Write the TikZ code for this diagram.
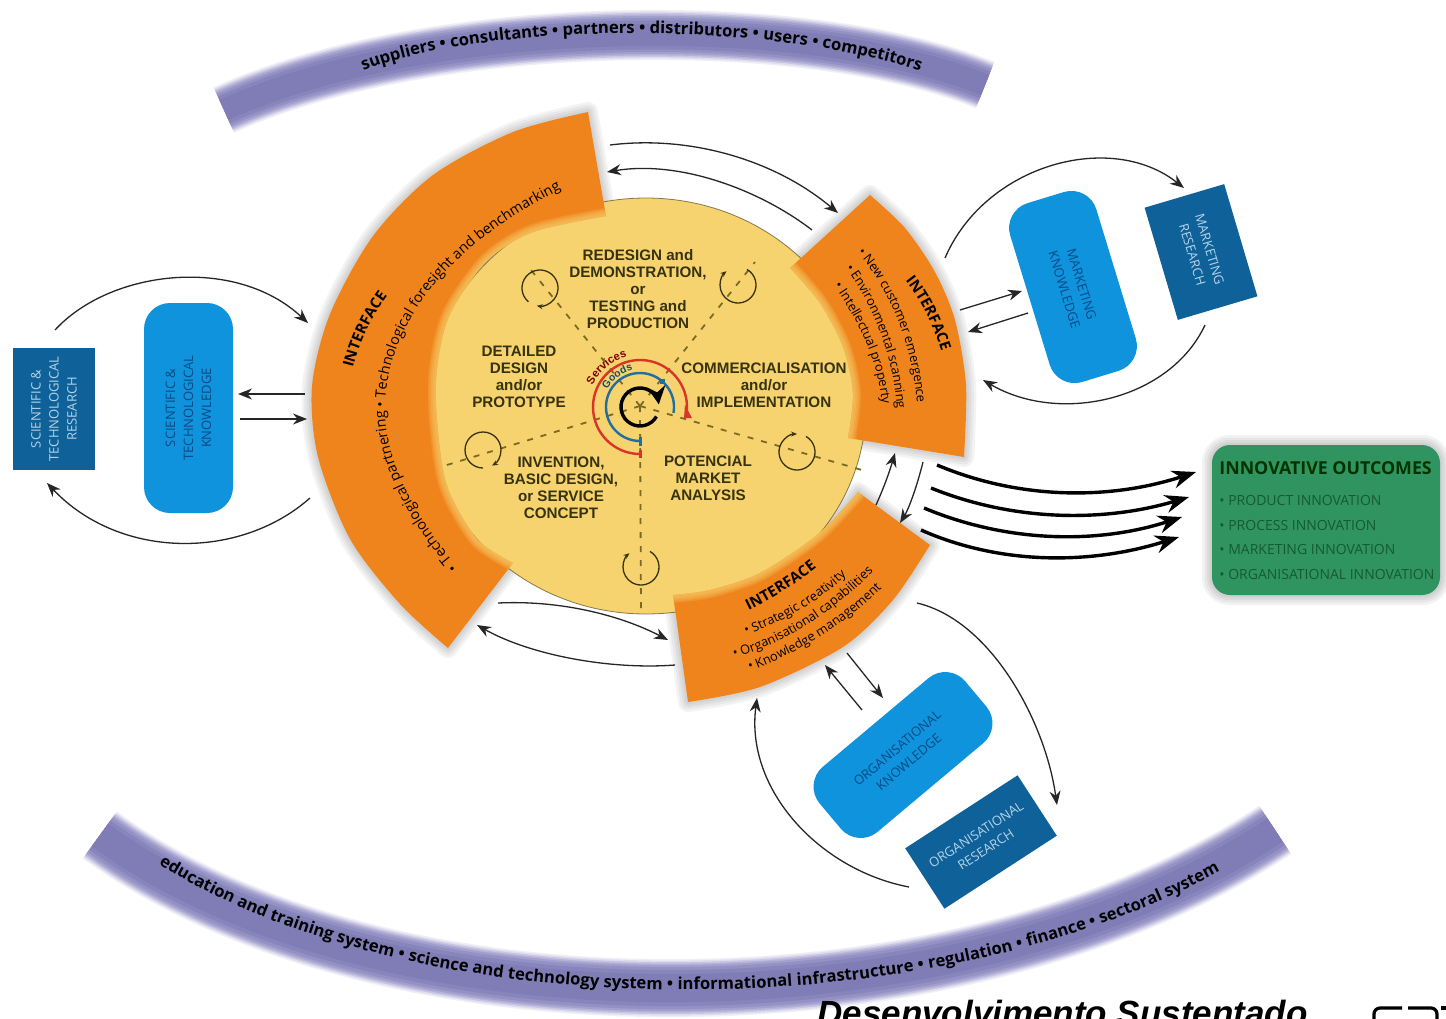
\documentclass[tikz,border=0pt]{standalone}
\usepackage{fontspec}
\setmainfont{Open Sans}
\newfontfamily\arialf{Liberation Sans}
\usetikzlibrary{arrows.meta,decorations.text}
\definecolor{orangeC}{HTML}{F0841C}
\definecolor{yellowC}{HTML}{F6D36E}
\definecolor{oliveC}{HTML}{37330F}
\definecolor{dashC}{HTML}{7A6A22}
\definecolor{lightB}{HTML}{0F93DC}
\definecolor{darkB}{HTML}{0F6299}
\definecolor{paleT}{HTML}{B5D3E8}
\definecolor{deepT}{HTML}{0A4A85}
\definecolor{greenC}{HTML}{2F9460}
\definecolor{greenT}{HTML}{155A36}
\definecolor{redC}{HTML}{D9332A}
\definecolor{blueC}{HTML}{1F6FA0}
\newcommand{\fsz}[1]{\fontsize{#1}{#1}\selectfont}
\newcommand{\bandf}{\fsz{8.3}\bfseries}
\newcommand{\ordf}{\fsz{7.2}}
\newcommand{\lowf}{\fsz{6.4}}
\newcommand{\ifcf}{\fsz{7.5}\bfseries}
\tikzset{
  x=0.5pt,y=-0.5pt,
  conn/.style={line width=0.65pt,draw=black!85,-{Stealth[length=7pt,width=5.5pt]}},
  heavy/.style={line width=1.7pt,draw=black,-{Stealth[length=12pt,width=9pt]}},
  spoke/.style={dash pattern=on 3pt off 4pt,line width=0.9pt,draw=dashC},
  cyc/.style={line width=0.65pt,draw=oliveC,-{Stealth[length=3pt,width=2.5pt]}},
  disc label/.style={font=\arialf\bfseries\fontsize{7.6}{8.45}\selectfont,text=oliveC,align=center,inner sep=0},
  knowbox/.style={fill=lightB,rounded corners=13pt,inner sep=0,align=center,text=deepT,font=\fontsize{6.5}{9}\selectfont},
  resbox/.style={fill=darkB,inner sep=0,align=center,text=paleT,font=\fontsize{6.5}{9}\selectfont},
  outtext/.style={anchor=west,inner sep=0,text=greenT,font=\fontsize{7}{8}\selectfont},
  orangeA/.style={insert path={plot[smooth] coordinates {(588,112)(513,132)(433,175)(373,236)(330,314)(312,386)(318,457)(350,539)(400,604)(448,648)} -- plot[smooth] coordinates {(513,563)(477,539)(447,486)(437,421)(437,368)(450,314)(487,261)(533,232)(606,216)} -- cycle}},
  innerA/.style={insert path={plot[smooth] coordinates {(513,563)(477,539)(447,486)(437,421)(437,368)(450,314)(487,261)(533,232)(606,216)}}},
  orangeB/.style={insert path={plot[smooth] coordinates {(870,195)(905,228)(935,272)(955,320)(966,385)(964,457)} -- plot[smooth] coordinates {(848,438)(853,393)(843,347)(820,303)(790,268)} -- cycle}},
  innerB/.style={insert path={plot[smooth] coordinates {(848,438)(853,393)(843,347)(820,303)(790,268)}}},
  orangeC shape/.style={insert path={plot[smooth] coordinates {(858,492)(930,545)} -- plot[smooth] coordinates {(930,545)(893,600)(843,647)(760,687)(688,702)} -- plot[smooth] coordinates {(673,595)(710,590)(760,573)(817,535)(858,492)} -- cycle}},
  innerC/.style={insert path={plot[smooth] coordinates {(673,595)(710,590)(760,573)(817,535)(858,492)}}},
}
\begin{document}
\begin{tikzpicture}
\useasboundingbox (0,0) rectangle (1446,1018);
\clip (0,0) rectangle (1446,1018);
\fill[white] (0,0) rectangle (1446,1018);

% ---- the two purple bands
\foreach \w/\c in {25/F0EFF7,23.5/DEDDEE,22/C8C6E2,20.5/B4B2D7,19/A3A0CD,17/9491C4,14.5/8885BC,11/807DB6}{
  \definecolor{bandC}{HTML}{\c}
  \draw[line width=\w pt,draw=bandC] (224,110) .. controls (420,20) and (800,10) .. (985,85);
}
\foreach \w/\c in {29/F0EFF7,27.5/DEDDEE,26/C8C6E2,24.5/B4B2D7,23/A3A0CD,21/9491C4,18/8885BC,14/807DB6}{
  \definecolor{bandC}{HTML}{\c}
  \draw[line width=\w pt,draw=bandC] (100,835) .. controls (380,1040) and (960,1040) .. (1275,830);
}
\path[decorate,decoration={text along path,text align=center,
  text={|\bandf|suppliers • consultants • partners • distributors • users • competitors}}]
  (355,74) .. controls (480,20) and (780,20) .. (928,74);
\path[decorate,decoration={text along path,text align=center,
  text={|\bandf|education and training system • science and technology system • informational infrastructure • regulation • finance • sectoral system}}]
  (155,862) .. controls (420,1031) and (934,1031) .. (1222,870);

% ---- halo of the orange sectors
\foreach \w in {10,7.5,5,2.5}{
  \draw[line width=\w pt,draw=black!65,opacity=0.07,line join=round,orangeA];
  \draw[line width=\w pt,draw=black!65,opacity=0.07,line join=round,orangeB];
  \draw[line width=\w pt,draw=black!65,opacity=0.07,line join=round,orangeC shape];
}

% ---- yellow disc
\fill[yellowC] (646,406) ellipse [x radius=220,y radius=208];
\draw[line width=0.4pt,draw=oliveC,opacity=0.6] (646,406) ellipse [x radius=220,y radius=208];

% ---- spokes
\coordinate (hub) at (640,406);
\coordinate (s1) at (527,265);
\coordinate (s2) at (755,262);
\coordinate (s3) at (862,470);
\coordinate (s4) at (641,612);
\coordinate (s5) at (437,468);
\foreach \e in {s1,s2,s3,s4,s5}{\draw[spoke] (hub) -- (\e);}

% ---- orange sectors
\fill[orangeC,orangeA];
\fill[orangeC,orangeB];
\fill[orangeC,orangeC shape];
\begin{scope}
\clip[orangeA];
\foreach \w in {8,6.5,5,3.5,2}{\draw[line width=\w pt,draw=yellowC,opacity=0.2,innerA];}
\end{scope}
\begin{scope}
\clip[orangeB];
\foreach \w in {8,6.5,5,3.5,2}{\draw[line width=\w pt,draw=yellowC,opacity=0.2,innerB];}
\end{scope}
\begin{scope}
\clip[orangeC shape];
\foreach \w in {8,6.5,5,3.5,2}{\draw[line width=\w pt,draw=yellowC,opacity=0.2,innerC];}
\end{scope}

% ---- sector labels
\path[decorate,decoration={text along path,text align=center,
  text={|\ifcf|INTERFACE}}] (352,372) .. controls (358,345) and (372,315) .. (390,292);
\path[decorate,decoration={text along path,text align=center,
  text={|\ordf|• Technological partnering • Technological foresight and benchmarking}}]
  (463,573) .. controls (420,525) and (385,465) .. (385,410) .. controls (385,345) and (425,255) .. (568,186);
\path[decorate,decoration={text along path,text align=center,
  text={|\ifcf|INTERFACE}}] (902,276) .. controls (922,300) and (935,330) .. (943,357);
\path[decorate,decoration={text along path,text align=center,
  text={|\lowf|• New customer emergence}}] (858,253) .. controls (890,290) and (912,345) .. (917,402);
\path[decorate,decoration={text along path,text align=center,
  text={|\lowf|• Environmental scanning}}] (846,269) .. controls (873,305) and (893,355) .. (897,408);
\path[decorate,decoration={text along path,text align=center,
  text={|\lowf|• Intellectual property}}] (834,286) .. controls (858,320) and (878,360) .. (882,404);
\path[decorate,decoration={text along path,text align=center,
  text={|\ifcf|INTERFACE}}] (745,612) .. controls (770,600) and (795,585) .. (820,565);
\path[decorate,decoration={text along path,text align=center,
  text={|\lowf|• Strategic creativity}}] (745,635) .. controls (785,622) and (820,600) .. (847,575);
\path[decorate,decoration={text along path,text align=center,
  text={|\lowf|• Organisational capabilities}}] (732,658) .. controls (785,645) and (835,610) .. (875,570);
\path[decorate,decoration={text along path,text align=center,
  text={|\lowf|• Knowledge management}}] (747,672) .. controls (795,655) and (845,625) .. (884,586);

% ---- disc labels
\node[disc label] (redesign) at (638,289) {REDESIGN and\\DEMONSTRATION,\\or\\TESTING and\\PRODUCTION};
\node[disc label] (detailed) at (519,377) {DETAILED\\DESIGN\\and/or\\PROTOTYPE};
\node[disc label] (commerc) at (764,385) {COMMERCIALISATION\\and/or\\IMPLEMENTATION};
\node[disc label] (potential) at (708,478) {POTENCIAL\\MARKET\\ANALYSIS};
\node[disc label] (invention) at (561,488) {INVENTION,\\BASIC DESIGN,\\or SERVICE\\CONCEPT};

% ---- small cycles on the spokes
\draw[cyc] (540,288) ++(130:18) arc (130:460:18);
\draw[cyc] (738,285) ++(300:18) arc (300:590:18);
\draw[cyc] (797,452) ++(300:18) arc (300:630:18);
\draw[cyc] (641,567) ++(300:18) arc (300:590:18);
\draw[cyc] (483,450) ++(90:18) arc (90:420:18);

% ---- centre
\draw[line width=1.2pt,draw=redC] (640,407) ++(90:47) arc (90:365:47);
\draw[line width=1.2pt,draw=blueC] (640,407) ++(90:34) arc (90:370:34);
\draw[line width=1.7pt,draw=black,-{Stealth[length=9pt,width=9pt]}] (640,407) ++(30:19) arc (30:352:19);
\fill[blueC] (659.5,378.5) rectangle (664.5,383.5);
\fill[redC] (638.5,450) rectangle (641.5,458);
\fill[redC] (685,405) -- (692,418) -- (684,418) -- cycle;
\fill[blueC] (638.5,437) rectangle (641.5,446);
\path[decorate,decoration={text along path,text align=center,
  text={|\arialf\bfseries\fsz{5.6}\color{red!50!black}|Services}}] (590,392) .. controls (595,375) and (612,358) .. (634,355);
\path[decorate,decoration={text along path,text align=center,
  text={|\arialf\bfseries\fsz{5.2}\color{blueC!70!black}|Goods}}] (605,396) .. controls (608,382) and (622,371) .. (640,369);

% ---- boxes
\node[resbox,minimum width=122*0.5pt,minimum height=82*0.5pt,rotate=90] (sciR) at (54,409) {SCIENTIFIC \&\\TECHNOLOGICAL\\RESEARCH};
\node[knowbox,minimum width=210*0.5pt,minimum height=89*0.5pt,rotate=90] (sciK) at (188.5,408) {SCIENTIFIC \&\\TECHNOLOGICAL\\KNOWLEDGE};
\node[knowbox,minimum width=187*0.5pt,minimum height=90*0.5pt,rotate=-73] (mktK) at (1073,287) {MARKETING\\KNOWLEDGE};
\node[resbox,minimum width=117*0.5pt,minimum height=83*0.5pt,rotate=-73.5] (mktR) at (1201,252) {MARKETING\\RESEARCH};
\node[knowbox,minimum width=190*0.5pt,minimum height=85*0.5pt,rotate=40] (orgK) at (903,755) {ORGANISATIONAL\\KNOWLEDGE};
\node[resbox,minimum width=134*0.5pt,minimum height=72*0.5pt,rotate=33] (orgR) at (981,842) {ORGANISATIONAL\\RESEARCH};

% ---- outcomes box
\foreach \w in {10,7.5,5,2.5}{
  \draw[line width=\w pt,draw=black!70,opacity=0.07,rounded corners=9pt] (1212,445) rectangle (1440,595);
}
\node[fill=greenC,rounded corners=9pt,minimum width=114pt,minimum height=75pt,inner sep=0] (out) at (1326,520) {};
\node[anchor=west,inner sep=0,text=black!80!green,font=\fontsize{8.9}{10}\selectfont\bfseries] (outT) at (1219,468) {INNOVATIVE OUTCOMES};
\node[outtext] (o1) at (1219,500) {• PRODUCT INNOVATION};
\node[outtext] (o2) at (1219,525) {• PROCESS INNOVATION};
\node[outtext] (o3) at (1219,549) {• MARKETING INNOVATION};
\node[outtext] (o4) at (1219,574) {• ORGANISATIONAL INNOVATION};

% ---- connector ends
\coordinate (sA1) at (55,330);   \coordinate (sA2) at (308,323);
\coordinate (sB1) at (310,498);  \coordinate (sB2) at (47,483);
\coordinate (sC1) at (305,394);  \coordinate (sC2) at (238,394);
\coordinate (sD1) at (240,419);  \coordinate (sD2) at (307,419);
\coordinate (tA1) at (610,145);  \coordinate (tA2) at (838,213);
\coordinate (tB1) at (812,230);  \coordinate (tB2) at (607,172);
\coordinate (mA1) at (945,258);  \coordinate (mA2) at (1184,188);
\coordinate (mB1) at (1205,325); \coordinate (mB2) at (983,380);
\coordinate (mC1) at (960,310);  \coordinate (mC2) at (1022,291);
\coordinate (mD1) at (1028,313); \coordinate (mD2) at (968,332);
\coordinate (rA1) at (876,505);  \coordinate (rA2) at (895,453);
\coordinate (rB1) at (923,462);  \coordinate (rB2) at (900,523);
\coordinate (g1a) at (937,465);  \coordinate (g1b) at (1196,472);
\coordinate (g2a) at (931,488);  \coordinate (g2b) at (1189,497);
\coordinate (g3a) at (924,508);  \coordinate (g3b) at (1182,517);
\coordinate (g4a) at (921,530);  \coordinate (g4b) at (1179,537);
\coordinate (bA1) at (498,603);  \coordinate (bA2) at (668,640);
\coordinate (bB1) at (675,665);  \coordinate (bB2) at (477,625);
\coordinate (oA1) at (862,710);  \coordinate (oA2) at (825,665);
\coordinate (oB1) at (847,653);  \coordinate (oB2) at (883,698);
\coordinate (oC1) at (917,603);  \coordinate (oC2) at (1057,805);
\coordinate (oD1) at (909,887);  \coordinate (oD2) at (757,698);

% ---- connectors
\draw[conn] (sA1) .. controls (110,270) and (235,255) .. (sA2);
\draw[conn] (sB1) .. controls (240,560) and (120,560) .. (sB2);
\draw[conn] (sC1) -- (sC2);
\draw[conn] (sD1) -- (sD2);
\draw[conn] (tA1) .. controls (690,135) and (775,160) .. (tA2);
\draw[conn] (tB1) .. controls (760,190) and (680,160) .. (tB2);
\draw[conn] (mA1) .. controls (985,165) and (1110,130) .. (mA2);
\draw[conn] (mB1) .. controls (1170,400) and (1060,425) .. (mB2);
\draw[conn] (mC1) -- (mC2);
\draw[conn] (mD1) -- (mD2);
\draw[conn] (rA1) .. controls (885,485) and (890,470) .. (rA2);
\draw[conn] (rB1) .. controls (916,490) and (908,510) .. (rB2);
\draw[heavy] (g1a) .. controls (1020,500) and (1110,500) .. (g1b);
\draw[heavy] (g2a) .. controls (1015,522) and (1105,522) .. (g2b);
\draw[heavy] (g3a) .. controls (1005,542) and (1095,545) .. (g3b);
\draw[heavy] (g4a) .. controls (1000,565) and (1090,565) .. (g4b);
\draw[conn] (bA1) .. controls (560,600) and (620,615) .. (bA2);
\draw[conn] (bB1) .. controls (610,670) and (530,655) .. (bB2);
\draw[conn] (oA1) -- (oA2);
\draw[conn] (oB1) -- (oB2);
\draw[conn] (oC1) .. controls (990,620) and (1045,720) .. (oC2);
\draw[conn] (oD1) .. controls (820,870) and (745,790) .. (oD2);

% ---- footer
\node[anchor=base west,inner sep=0,font=\arialf\bfseries\itshape\fontsize{17.5}{18}\selectfont] (footer) at (817,1025) {Desenvolvimento Sustentado};
\draw[line width=1.6pt,rounded corners=3pt] (1374,1025) -- (1374,1008) -- (1402,1008);
\draw[line width=1.6pt,rounded corners=3pt] (1408,1008) -- (1437,1008) -- (1437,1025);
\draw[line width=1.6pt] (1441,1008) -- (1446,1008);
\end{tikzpicture}
\end{document}
